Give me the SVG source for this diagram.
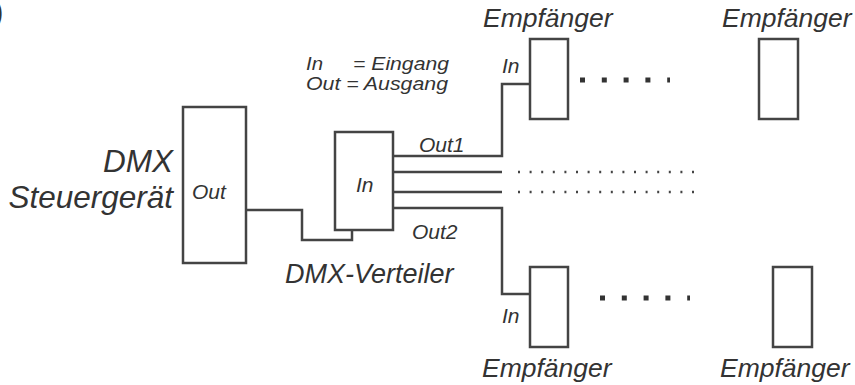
<svg xmlns="http://www.w3.org/2000/svg" width="855" height="385" viewBox="0 0 855 385">
<style>
text{font-family:"Liberation Sans",Arial,sans-serif;font-style:italic;fill:#333}
.big{font-size:31.5px}
.mid{font-size:26.5px}
.sm{font-size:21px}
.leg{font-size:18.5px}
.box{fill:#fff;stroke:#444;stroke-width:2.5}
.wire{fill:none;stroke:#444;stroke-width:2.5}
.dots{fill:none;stroke:#444;stroke-width:2.5;stroke-dasharray:2 9.6}
.bdots{fill:none;stroke:#333;stroke-width:5;stroke-dasharray:5 16.8}
</style>
<rect width="855" height="385" fill="#fff"/>
<text x="-7" y="22" class="big" style="font-style:normal">)</text>
<g id="connectors">
<path class="wire" d="M246,210 H302 V240 H352 V230"/>
<path class="wire" d="M393,156 H502 V84 H530"/>
<path class="wire" d="M393,172 H502"/>
<path class="wire" d="M393,192 H502"/>
<path class="wire" d="M393,208 H502 V294 H530"/>
<path class="dots" d="M518,172 H700"/>
<path class="dots" d="M518,192 H700"/>
<path class="bdots" d="M580,80 H670"/>
<path class="bdots" d="M600,298 H690"/>
</g>
<g id="controller">
<rect class="box" x="183" y="107" width="63" height="156"/>
<text x="173" y="172" class="big" text-anchor="end">DMX</text>
<text x="173" y="208" class="big" text-anchor="end">Steuergerät</text>
<text x="192" y="199" class="sm">Out</text>
</g>
<g id="distributor">
<rect class="box" x="335" y="132" width="58" height="98"/>
<text x="356" y="192" class="sm">In</text>
<text x="419" y="152" class="sm">Out1</text>
<text x="412" y="239" class="sm">Out2</text>
<text x="285" y="283" class="mid" style="font-size:27px">DMX-Verteiler</text>
</g>
<g id="legend">
<text x="306" y="70" class="leg" textLength="17" lengthAdjust="spacingAndGlyphs">In</text>
<text x="353" y="70" class="leg" textLength="96" lengthAdjust="spacingAndGlyphs">= Eingang</text>
<text x="306" y="90" class="leg" textLength="142" lengthAdjust="spacingAndGlyphs">Out = Ausgang</text>
</g>
<g id="receiver1">
<rect class="box" x="530" y="39" width="38" height="80"/>
<text x="502" y="73" class="sm">In</text>
<text x="483" y="27" class="mid">Empfänger</text>
</g>
<g id="receiver2">
<rect class="box" x="759" y="39" width="39" height="80"/>
<text x="722" y="27" class="mid">Empfänger</text>
</g>
<g id="receiver3">
<rect class="box" x="530" y="267" width="38" height="80"/>
<text x="502" y="323" class="sm">In</text>
<text x="482" y="377" class="mid">Empfänger</text>
</g>
<g id="receiver4">
<rect class="box" x="773" y="267" width="39" height="80"/>
<text x="720" y="377" class="mid">Empfänger</text>
</g>
</svg>
